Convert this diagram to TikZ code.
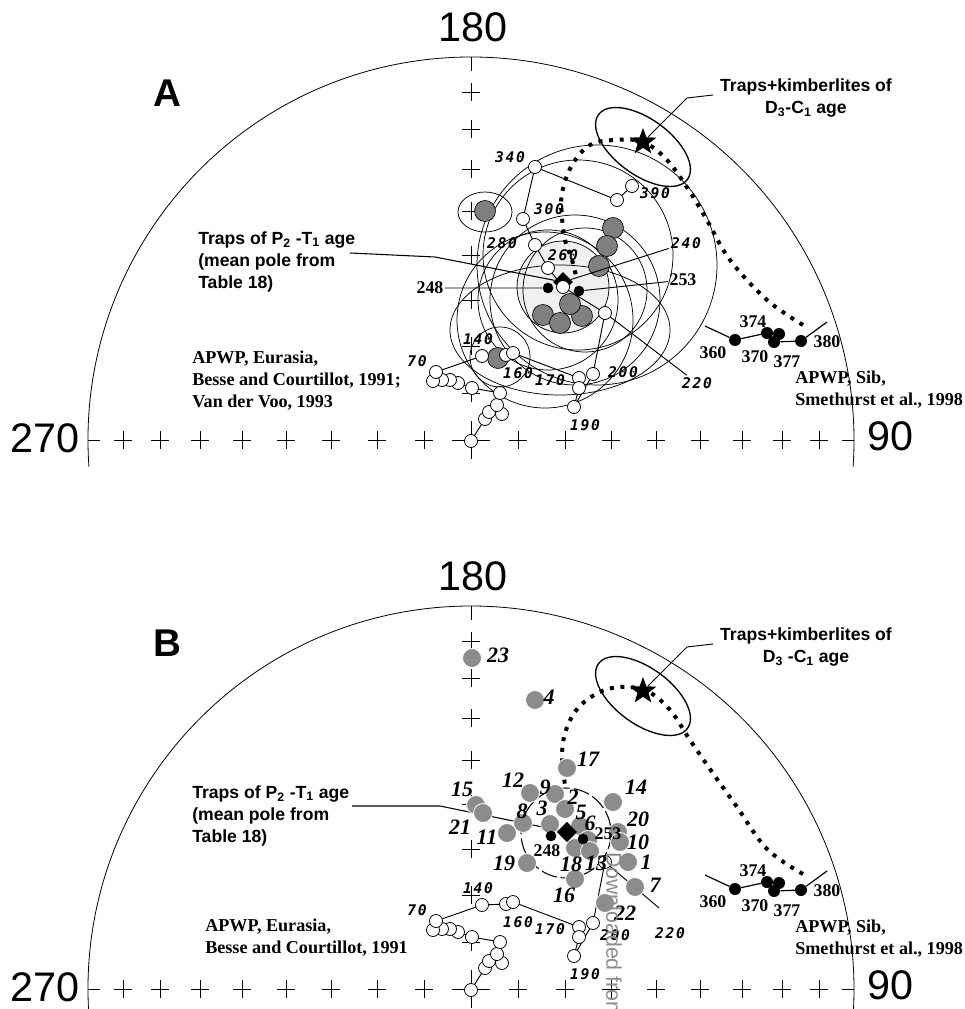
\documentclass[tikz,border=0pt]{standalone}
\usepackage{fontspec}
\setmainfont{Liberation Serif}
\setsansfont{Liberation Sans}
\newfontfamily\agefont[LetterSpace=12]{DejaVu Sans Mono}
\usetikzlibrary{shapes.geometric}
\pgfdeclarelayer{background}
\pgfsetlayers{background,main}

\tikzset{
  netline/.style={line width=.6pt},
  ring/.style={line width=.55pt},
  chain/.style={line width=.7pt},
  apw/.style={circle,draw,fill=white,line width=.6pt,inner sep=0pt,minimum size=9.75pt},
  sibpole/.style={circle,fill=black,inner sep=0pt,minimum size=9pt},
  meandot/.style={circle,fill=black,inner sep=0pt,minimum size=8pt},
  trappole/.style={circle,draw,line width=.5pt,fill=black!50,inner sep=0pt,minimum size=15.75pt},
  sitepole/.style={circle,draw=white,line width=.6pt,fill=black!45,inner sep=0pt,minimum size=14.25pt},
  meanpole/.style={diamond,fill=black,inner sep=0pt,minimum size=15pt},
  kimb/.style={star,star points=5,star point ratio=2.4,fill=black,inner sep=0pt,minimum size=21pt},
  pathdots/.style={line width=3pt,dash pattern=on 3pt off 5pt},
  agelab/.style={font=\agefont\bfseries\itshape\fontsize{11}{12}\selectfont,inner sep=1.5pt},
  agenum/.style={font=\bfseries\fontsize{13.4}{15}\selectfont,inner sep=1pt},
  sitenum/.style={font=\bfseries\itshape\fontsize{16.5}{18}\selectfont,inner sep=0pt},
  reflab/.style={font=\bfseries\fontsize{13.6}{16.5}\selectfont,align=left,inner sep=0pt},
  traplab/.style={font=\sffamily\bfseries\fontsize{13.2}{16.8}\selectfont,inner sep=0pt},
  azim/.style={font=\sffamily\fontsize{31}{36}\selectfont,inner sep=0pt},
  panel/.style={font=\sffamily\bfseries\fontsize{29}{34}\selectfont,inner sep=0pt},
}

% equal-area net, centre at (471,440)
\newcommand\stereonet[1]{%
  \draw[netline] ([shift={(471,440)}]184:287.25pt) arc[start angle=184,end angle=-4,radius=287.25pt];
  \foreach \d in {47,94,140,185,229,271,311,348}{%
    \draw[netline] (462-\d,440) -- (480-\d,440) (471-\d,431) -- (471-\d,449)
                   (462+\d,440) -- (480+\d,440) (471+\d,431) -- (471+\d,449)
                   (462,440-\d) -- (480,440-\d) (471,431-\d) -- (471,449-\d);
  }
  \draw[netline] (452,440) -- (490,440) (471,421) -- (471,459)
                 (88,440) -- (100,440) (842,440) -- (854,440) (471,57) -- (471,71);
  \node[azim] (#1n180) at (473,27) {180};
  \node[azim] (#1n270) at (45,438) {270};
  \node[azim] (#1n90) at (890,436) {90};
}

% APWP of Eurasia, 0-220 Ma
\newcommand\eurasialow[1]{%
  \foreach \n/\x/\y in {0/471/441,10/485/419,20/489/412,30/502/414,40/497/405,50/500/393,
      60/472/388,62/458/383,64/450/380,66/442/380,68/433/381,70/436/372,140/482/356,
      155/506/355,160/513/353,170/579/378,180/579/388,190/574/407,200/593/374,220/605/313}
    \node[apw] (#1e\n) at (\x,\y) {};
  \begin{pgfonlayer}{background}
    \draw[chain] (#1e0.center) -- (#1e10.center) -- (#1e20.center) -- (#1e30.center)
      -- (#1e40.center) -- (#1e50.center) -- (#1e60.center) -- (#1e62.center)
      -- (#1e64.center) -- (#1e66.center) -- (#1e68.center) -- (#1e70.center)
      -- (#1e140.center) -- (#1e155.center) -- (#1e160.center) -- (#1e170.center)
      -- (#1e180.center) -- (#1e190.center) -- (#1e200.center) -- (#1e220.center);
  \end{pgfonlayer}
  \node[agelab] (#1l70) at (417,361) {70};
  \node[agelab] (#1l140) at (478,339) {140};
  \node[agelab] (#1l160) at (518,373) {160};
  \node[agelab] (#1l170) at (550,380) {170};
  \node[agelab] (#1l190) at (585,425) {190};
}

% APWP of Siberia
\newcommand\sibpath[1]{%
  \node[sibpole] (#1s360) at (735,340) {};
  \node[sibpole] (#1s370) at (767,333) {};
  \node[sibpole] (#1s374) at (779,334) {};
  \node[sibpole] (#1s377) at (774,342) {};
  \node[sibpole] (#1s380) at (801,341) {};
  \coordinate (#1s350) at (705,326);
  \coordinate (#1s390) at (827,322);
  \draw[line width=.9pt] (#1s350) -- (#1s360) -- (#1s370) (#1s377) -- (#1s380) -- (#1s390);
  \node[agenum] (#1l360) at (713,353) {360};
  \node[agenum] (#1l370) at (755,357) {370};
  \node[agenum] (#1l374) at (753,322) {374};
  \node[agenum] (#1l377) at (787,362) {377};
  \node[agenum] (#1l380) at (827,342) {380};
  \node[reflab,anchor=north west] (#1sibref) at (795,371) {APWP, Sib,\\Smethurst et al., 1998};
}

% traps+kimberlites pole
\newcommand\kimber[2]{%
  \node[ellipse,draw,line width=1pt,minimum width=82.5pt,minimum height=42pt,rotate=-36] (#1kimell) at (643,147) {};
  \node[kimb] (#1star) at (643,142) {};
  \node[traplab,align=center,anchor=north] (#1kimlab) at (806,78) {Traps+kimberlites of\\#2};
  \coordinate (#1kim1) at (713,95);
  \coordinate (#1kim2) at (687,98);
  \draw[line width=.7pt] (#1kim1) -- (#1kim2) -- (#1star);
}

\begin{document}
\begin{tikzpicture}[x=0.75pt,y=-0.75pt,line join=round]
\useasboundingbox (0,0) rectangle (964,1009);
\begin{pgfonlayer}{background}
  \fill[white] (0,0) rectangle (964,1009);
\end{pgfonlayer}

%%% panel A
\begin{scope}
  \stereonet{a}
  \node[panel] (apanel) at (167,93) {A};
  % confidence circles
  \begin{pgfonlayer}{background}
    \fill[black!6] (563,287) circle[radius=46];
    \draw[ring] (597,265) circle[radius=120];
    \draw[ring] (578,255) circle[radius=95];
    \draw[ring] (545,320) circle[radius=88];
    \draw[ring] (560,330) ellipse[x radius=110,y radius=65];
    \draw[ring] (575,300) circle[radius=85];
    \draw[ring] (585,290) circle[radius=62];
    \draw[ring] (548,300) circle[radius=70];
    \draw[ring] (500,357) circle[radius=30];
    \draw[ring] (485,212) ellipse[x radius=27,y radius=20];
    \draw[ring] (563,287) circle[radius=46];
  \end{pgfonlayer}
  % dotted path
  \draw[pathdots] plot[smooth,tension=.6] coordinates {(803,325) (767,300) (730,260) (708,222)
    (690,192) (667,160) (643,142) (615,140) (590,145) (572,165) (562,193) (562,217) (565,240)
    (572,260) (577,280)};
  % trap poles
  \foreach \n/\x/\y in {1/485/211,2/613/228,3/607/246,4/599/266,6/543/315,7/560/323,8/582/316,5/570/304,9/498/358}
    \node[trappole] (ag\n) at (\x,\y) {};
  \eurasialow{a}
  \node[agelab] (al200) at (623,372) {200};
  \node[agelab] (al220) at (697,383) {220};
  \draw[chain] (ae220) -- (al220);
  % mean pole
  \coordinate (atr1) at (350,253);
  \coordinate (atr2) at (435,257);
  \node[meanpole] (amean) at (563,282) {};
  \draw[line width=.8pt] (atr1) -- (atr2) -- (amean);
  \foreach \n/\x/\y in {240/563/287,260/548/268,280/535/245,300/523/219,340/535/167,380/617/200,390/632/186}
    \node[apw] (ae\n) at (\x,\y) {};
  \begin{pgfonlayer}{background}
    \draw[chain] (ae220.center) -- (ae240.center) -- (ae260.center) -- (ae280.center)
      -- (ae300.center) -- (ae340.center) -- (ae380.center) -- (ae390.center);
  \end{pgfonlayer}
  \node[meandot] (as248) at (548,288) {};
  \node[meandot] (as253) at (579,291) {};
  \node[agenum] (al248) at (430,288) {248};
  \node[agenum] (al253) at (683,280) {253};
  \draw[chain] (al248) -- (as248) (as253) -- (al253);
  \node[agelab] (al240) at (686,243) {240};
  \draw[chain] (amean) -- (al240);
  \node[agelab] (al260) at (563,255) {260};
  \node[agelab] (al280) at (502,243) {280};
  \node[agelab] (al300) at (549,209) {300};
  \node[agelab] (al340) at (510,157) {340};
  \node[agelab] (al390) at (655,193) {390};
  \sibpath{a}
  \kimber{a}{D\textsubscript{3}-C\textsubscript{1} age}
  \node[traplab,align=left,anchor=north west] (atraplab) at (198,231)
    {Traps of P\textsubscript{2} -T\textsubscript{1} age\\(mean pole from\\Table 18)};
  \node[reflab,anchor=north west] (aeuref) at (192,351)
    {APWP, Eurasia,\\Besse and Courtillot, 1991;\\Van der Voo, 1993};
\end{scope}

%%% panel B
\begin{scope}[shift={(0,549)}]
  \stereonet{b}
  \node[panel] (bpanel) at (167,94) {B};
  \eurasialow{b}
  \sibpath{b}
  \kimber{b}{D\textsubscript{3} -C\textsubscript{1} age}
\end{scope}
\node[agelab] (bl200) at (615,935) {200};
\node[agelab] (bl220) at (670,933) {220};
\coordinate (b220end) at (659,908);
\draw[chain] (be220) -- (b220end);
\begin{pgfonlayer}{background}
  \draw[line width=.8pt,dash pattern=on 12pt off 3pt] (566,833) circle[radius=45];
\end{pgfonlayer}
\draw[pathdots] plot[smooth,tension=.6] coordinates {(803,874) (767,849) (737,807) (712,772)
  (690,740) (670,710) (647,691) (620,687) (598,693) (578,708) (566,730) (562,755) (565,785)};
\node[meanpole] (bmean) at (567,832) {};
\coordinate (btr1) at (352,806);
\coordinate (btr2) at (440,806);
\draw[line width=.8pt] (btr1) -- (btr2) -- (bmean);
% site poles
\foreach \n/\x/\y in {23/472/658,4/535/700,17/567/768,12/530/793,9/555/794,14/613/802,2/565/809,
    15/476/805,21/483/813,8/523/823,3/550/824,11/507/833,5/580/826,20/618/832,10/620/842,
    6/588/840,18/575/848,13/590/851,1/628/862,19/527/863,16/575/879,7/635/887,22/605/903}
  \node[sitepole] (bp\n) at (\x,\y) {};
\node[meanpole] (bmeantop) at (567,832) {};
\node[meandot] (bs248) at (551,836) {};
\node[meandot] (bs253) at (583,839) {};
\node[agenum] (bl248) at (547,851) {248};
\node[agenum] (bl253) at (608,834) {253};
\foreach \n/\x/\y in {23/498/655,4/549/697,17/588/759,12/513/780,9/545/787,14/636/787,2/573/797,
    15/462/789,21/460/827,8/522/811,3/542/808,11/487/837,5/581/812,6/590/823,20/638/819,
    10/638/842,18/571/864,13/596/863,1/646/862,19/504/863,16/564/895,7/655/885,22/625/913}
  \node[sitenum] (bn\n) at (\x,\y) {\n};
\node[traplab,align=left,anchor=north west] (btraplab) at (192,785)
  {Traps of P\textsubscript{2} -T\textsubscript{1} age\\(mean pole from\\Table 18)};
\node[reflab,anchor=north west] (beuref) at (205,919) {APWP, Eurasia,\\Besse and Courtillot, 1991};

\node[font=\sffamily\fontsize{16}{16}\selectfont,text=black!45,rotate=-90,anchor=west,inner sep=0pt] (wmark) at (614,852) {Downloaded from};
\end{tikzpicture}
\end{document}
